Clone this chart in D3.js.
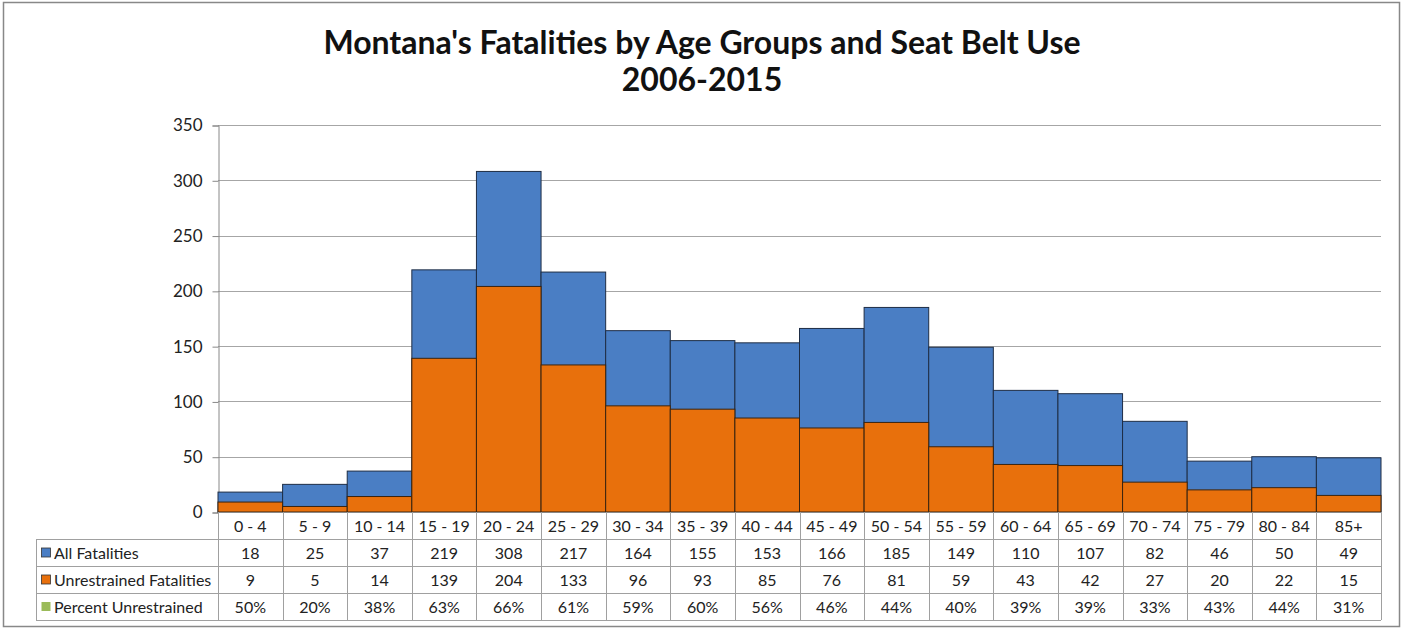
<!DOCTYPE html>
<html>
<head>
<meta charset="utf-8">
<script src="https://cdn.jsdelivr.net/npm/d3@7/dist/d3.min.js"></script>
<style>
html,body{margin:0;padding:0;background:#fff;}
svg{display:block;}
text{font-family:Lato,"Open Sans",sans-serif;fill:#222;}
</style>
</head>
<body>
<svg id="chart" width="1402" height="629"></svg>
<script>
const categories = ["0 - 4","5 - 9","10 - 14","15 - 19","20 - 24","25 - 29","30 - 34","35 - 39","40 - 44","45 - 49","50 - 54","55 - 59","60 - 64","65 - 69","70 - 74","75 - 79","80 - 84","85+"];
const allFatalities = [18,25,37,219,308,217,164,155,153,166,185,149,110,107,82,46,50,49];
const unrestrained = [9,5,14,139,204,133,96,93,85,76,81,59,43,42,27,20,22,15];
const percentUnrestrained = ["50%","20%","38%","63%","66%","61%","59%","60%","56%","46%","44%","40%","39%","39%","33%","43%","44%","31%"];
const yTicks = [0,50,100,150,200,250,300,350];
const seriesNames = ["All Fatalities","Unrestrained Fatalities","Percent Unrestrained"];
const seriesColors = ["#4a7ec4","#e8700c","#9bbb59"];
const titleLines = ["Montana's Fatalities by Age Groups and Seat Belt Use","2006-2015"];

(function(){
const svg = d3.select("#chart");
const W = 1402, H = 629;
const pLeft = 218, pRight = 1381, pTop = 125, pBottom = 512;
const tableLeft = 36;
const rowH = 27;
const fs = "16px";

svg.append("rect").attr("x",3.5).attr("y",2.5).attr("width",W-6).attr("height",H-5)
  .attr("fill","#fff").attr("stroke","#888").attr("stroke-width",1.5);

svg.selectAll("text.title").data(titleLines).enter().append("text")
  .attr("class","title")
  .attr("x",702).attr("y",(d,i)=>54+i*37)
  .attr("text-anchor","middle")
  .style("font-size","32px").style("font-weight","bold").style("fill","#111")
  .text(d=>d);

const x = d3.scaleBand().domain(categories).range([pLeft,pRight]).paddingInner(0).paddingOuter(0);
const y = d3.scaleLinear().domain([0,350]).range([pBottom,pTop]);

svg.append("g").selectAll("line").data(yTicks.filter(t=>t>0)).enter().append("line")
  .attr("x1",pLeft).attr("x2",pRight).attr("y1",d=>Math.round(y(d))+0.5).attr("y2",d=>Math.round(y(d))+0.5)
  .attr("stroke","#a6a6a6").attr("stroke-width",1);

const yAxis = d3.axisLeft(y).tickValues(yTicks).tickSize(6).tickPadding(10);
const gy = svg.append("g").attr("transform",`translate(${pLeft+0.5},0.5)`).call(yAxis);
gy.select(".domain").attr("stroke","#888");
gy.selectAll(".tick line").attr("stroke","#888");
gy.selectAll(".tick text").style("font-size","17px").style("font-family","Lato,'Open Sans',sans-serif").attr("fill","#222");

svg.append("g").selectAll("rect").data(categories).enter().append("rect")
  .attr("x",d=>x(d)).attr("width",x.bandwidth())
  .attr("y",(d,i)=>y(allFatalities[i])).attr("height",(d,i)=>pBottom-y(allFatalities[i]))
  .attr("fill",seriesColors[0]).attr("stroke","#1e2d45").attr("stroke-width",1);

svg.append("g").selectAll("rect").data(categories).enter().append("rect")
  .attr("x",d=>x(d)).attr("width",x.bandwidth())
  .attr("y",(d,i)=>y(unrestrained[i])).attr("height",(d,i)=>pBottom-y(unrestrained[i]))
  .attr("fill",seriesColors[1]).attr("stroke","#3a2410").attr("stroke-width",1);

svg.append("line").attr("x1",pLeft).attr("x2",pRight).attr("y1",pBottom+0.5).attr("y2",pBottom+0.5)
  .attr("stroke","#888");

const tbl = svg.append("g");
const gridColor = "#a0a0a0";
const rowYs = [pBottom+rowH, pBottom+2*rowH, pBottom+3*rowH, pBottom+4*rowH];
rowYs.forEach(ry=>{
  tbl.append("line").attr("x1",tableLeft).attr("x2",pRight).attr("y1",ry+0.5).attr("y2",ry+0.5)
    .attr("stroke",gridColor);
});
const colEdges = categories.map(c=>x(c)).concat([pRight]);
colEdges.forEach(cx=>{
  tbl.append("line").attr("x1",Math.round(cx)+0.5).attr("x2",Math.round(cx)+0.5)
    .attr("y1",pBottom).attr("y2",pBottom+4*rowH).attr("stroke",gridColor);
});
tbl.append("line").attr("x1",tableLeft+0.5).attr("x2",tableLeft+0.5)
  .attr("y1",pBottom+rowH).attr("y2",pBottom+4*rowH).attr("stroke",gridColor);

tbl.selectAll("text.cat").data(categories).enter().append("text")
  .attr("class","cat").attr("x",d=>x(d)+x.bandwidth()/2).attr("y",pBottom+rowH/2+6)
  .attr("text-anchor","middle").style("font-size",fs).text(d=>d);

const rows = [allFatalities, unrestrained, percentUnrestrained];
rows.forEach((vals,r)=>{
  const ry = pBottom + (r+1)*rowH;
  tbl.selectAll(`text.r${r}`).data(vals).enter().append("text")
    .attr("class",`r${r}`)
    .attr("x",(d,i)=>x(categories[i])+x.bandwidth()/2).attr("y",ry+rowH/2+6)
    .attr("text-anchor","middle").style("font-size",fs).text(d=>d);
  tbl.append("rect").attr("x",tableLeft+5.5).attr("y",ry+rowH/2-4.5).attr("width",9).attr("height",9)
    .attr("fill",seriesColors[r]).attr("stroke",r<2?"#333":"none").attr("stroke-width",0.8);
  tbl.append("text").attr("x",tableLeft+18).attr("y",ry+rowH/2+6)
    .style("font-size",fs).text(seriesNames[r]);
});
})();
</script>
</body>
</html>
